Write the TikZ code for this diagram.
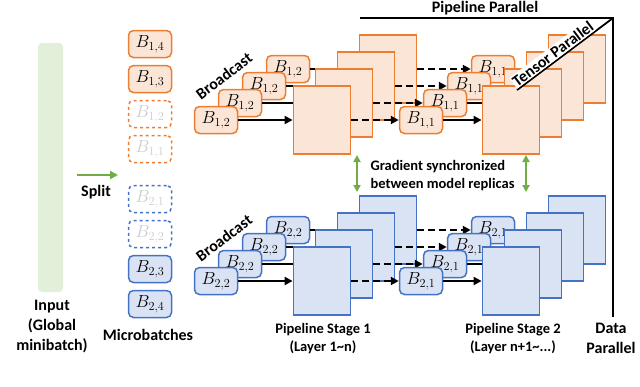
\RequirePackage{fix-cm}
\documentclass[tikz,border=0pt]{standalone}
\usepackage{fontspec}
\setmainfont{Carlito}
\usetikzlibrary{arrows.meta, positioning}
\definecolor{tpborder}{RGB}{237,125,49}
\definecolor{tpfill}{RGB}{251,229,214}
\definecolor{dpborder}{RGB}{68,114,196}
\definecolor{dpfill}{RGB}{218,227,243}
\definecolor{syncgreen}{RGB}{112,173,71}
\definecolor{inputgreen}{RGB}{226,240,217}
\definecolor{ghosttext}{RGB}{205,205,205}

\begin{document}
\begin{tikzpicture}[x=1pt, y=-1pt,
  mbatch/.style={rounded corners=5pt, line width=1.5pt, minimum width=43pt,
                 minimum height=27pt, inner sep=0pt, font=\fontsize{17.5}{19}\selectfont},
  orng/.style={mbatch, draw=tpborder, fill=tpfill},
  blu/.style={mbatch, draw=dpborder, fill=dpfill},
  ghost/.style={dashed, fill=white, text=ghosttext},
  layerbox/.style={line width=1.8pt, minimum width=57pt, minimum height=68pt, inner sep=0pt},
  olayer/.style={layerbox, draw=tpborder, fill=tpfill},
  blayer/.style={layerbox, draw=dpborder, fill=dpfill},
  lbl/.style={font=\fontsize{16}{20}\selectfont\bfseries, align=center},
  sublbl/.style={font=\fontsize{14.5}{18}\selectfont\bfseries, align=center},
  flow/.style={line width=2pt, -{Triangle[length=8pt, width=8pt]}},
  pipe/.style={dash pattern=on 7pt off 4pt},
  sync/.style={draw=syncgreen, line width=2pt, {Triangle[length=7pt, width=7pt]}-{Triangle[length=7pt, width=7pt]}},
  frame/.style={line width=1.8pt}
]
\useasboundingbox (0,0) rectangle (640,386);

% Input and split
\node[fill=inputgreen, rounded corners=4pt, minimum width=25pt, minimum height=249pt] (input) at (50.5,167.5) {};
\node[lbl] (inputlbl) at (52,327) {Input\\(Global\\minibatch)};
\coordinate (split-s) at (77,175);
\coordinate (split-e) at (118,175);
\draw[draw=syncgreen, line width=2.4pt, -{Triangle[length=8pt, width=8pt]}] (split-s) -- (split-e);
\node[lbl] (splitlbl) at (96,192) {Split};

% Microbatches
\node[orng] (mb14) at (150,44) {$B_{1,4}$};
\node[orng] (mb13) at (150,79) {$B_{1,3}$};
\node[orng, ghost] (mb12) at (150,114) {$B_{1,2}$};
\node[orng, ghost] (mb11) at (150,149) {$B_{1,1}$};
\node[blu, ghost] (mb21) at (150,199) {$B_{2,1}$};
\node[blu, ghost] (mb22) at (150,234) {$B_{2,2}$};
\node[blu] (mb23) at (150,269) {$B_{2,3}$};
\node[blu] (mb24) at (150,304) {$B_{2,4}$};
\node[lbl] (mblbl) at (148,335) {Microbatches};

% Model replica 1 (back to front)
\node[orng] (bcA3) at (288,69) {$B_{1,2}$};
\node[olayer] (pA3) at (388,69) {};
\node[orng] (mA3) at (493,69) {$B_{1,1}$};
\node[olayer] (qA3) at (577,69) {};
\draw[flow] (bcA3) -- (pA3);
\draw[flow, pipe] (pA3) -- (mA3);
\draw[flow] (mA3) -- (qA3);

\node[orng] (bcA2) at (264,86) {$B_{1,2}$};
\node[olayer] (pA2) at (366,86) {};
\node[orng] (mA2) at (469,86) {$B_{1,1}$};
\node[olayer] (qA2) at (555,86) {};
\draw[flow] (bcA2) -- (pA2);
\draw[flow, pipe] (pA2) -- (mA2);
\draw[flow] (mA2) -- (qA2);

\node[orng] (bcA1) at (240,103) {$B_{1,2}$};
\node[olayer] (pA1) at (344,103) {};
\node[orng] (mA1) at (445,103) {$B_{1,1}$};
\node[olayer] (qA1) at (533,103) {};
\draw[flow] (bcA1) -- (pA1);
\draw[flow, pipe] (pA1) -- (mA1);
\draw[flow] (mA1) -- (qA1);

\node[orng] (bcA0) at (216,120) {$B_{1,2}$};
\node[olayer] (pA0) at (322,120) {};
\node[orng] (mA0) at (421,120) {$B_{1,1}$};
\node[olayer] (qA0) at (511,120) {};
\draw[flow] (bcA0) -- (pA0);
\draw[flow, pipe] (pA0) -- (mA0);
\draw[flow] (mA0) -- (qA0);

\node[lbl, rotate=37] (bcastA) at (224,76) {Broadcast};

% Model replica 2 (back to front)
\node[blu] (bcB3) at (288,230) {$B_{2,2}$};
\node[blayer] (pB3) at (388,230) {};
\node[blu] (mB3) at (493,230) {$B_{2,1}$};
\node[blayer] (qB3) at (577,230) {};
\draw[flow] (bcB3) -- (pB3);
\draw[flow, pipe] (pB3) -- (mB3);
\draw[flow] (mB3) -- (qB3);

\node[blu] (bcB2) at (264,247) {$B_{2,2}$};
\node[blayer] (pB2) at (366,247) {};
\node[blu] (mB2) at (469,247) {$B_{2,1}$};
\node[blayer] (qB2) at (555,247) {};
\draw[flow] (bcB2) -- (pB2);
\draw[flow, pipe] (pB2) -- (mB2);
\draw[flow] (mB2) -- (qB2);

\node[blu] (bcB1) at (240,264) {$B_{2,2}$};
\node[blayer] (pB1) at (344,264) {};
\node[blu] (mB1) at (445,264) {$B_{2,1}$};
\node[blayer] (qB1) at (533,264) {};
\draw[flow] (bcB1) -- (pB1);
\draw[flow, pipe] (pB1) -- (mB1);
\draw[flow] (mB1) -- (qB1);

\node[blu] (bcB0) at (216,281) {$B_{2,2}$};
\node[blayer] (pB0) at (322,281) {};
\node[blu] (mB0) at (421,281) {$B_{2,1}$};
\node[blayer] (qB0) at (511,281) {};
\draw[flow] (bcB0) -- (pB0);
\draw[flow, pipe] (pB0) -- (mB0);
\draw[flow] (mB0) -- (qB0);

\node[lbl, rotate=37] (bcastB) at (224,238) {Broadcast};

% Gradient sync
\coordinate (g1-top) at (357,155);
\coordinate (g1-bot) at (357,192);
\coordinate (g2-top) at (526,155);
\coordinate (g2-bot) at (526,192);
\draw[sync] (g1-top) -- (g1-bot);
\draw[sync] (g2-top) -- (g2-bot);
\node[sublbl, align=left, anchor=west] (synclbl) at (367,176) {Gradient synchronized\\between model replicas};

% Stage labels
\node[sublbl] (stage1lbl) at (323,339) {Pipeline Stage 1\\(Layer 1\textasciitilde n)};
\node[sublbl] (stage2lbl) at (513,339) {Pipeline Stage 2\\(Layer n+1\textasciitilde ...)};

% Parallel axes
\coordinate (pp-start) at (360,18);
\coordinate (corner) at (613,18);
\coordinate (dp-end) at (613,317);
\coordinate (tp-end) at (517,90);
\draw[frame] (pp-start) -- (corner) -- (dp-end);
\draw[frame] (tp-end) -- (corner) node[lbl, pos=0.42, sloped, above, fill=white, inner sep=1pt] (tplbl) {Tensor Parallel};
\node[lbl] (pplbl) at (485,8) {Pipeline Parallel};
\node[lbl] (dplbl) at (611,338) {Data\\Parallel};
\end{tikzpicture}
\end{document}
